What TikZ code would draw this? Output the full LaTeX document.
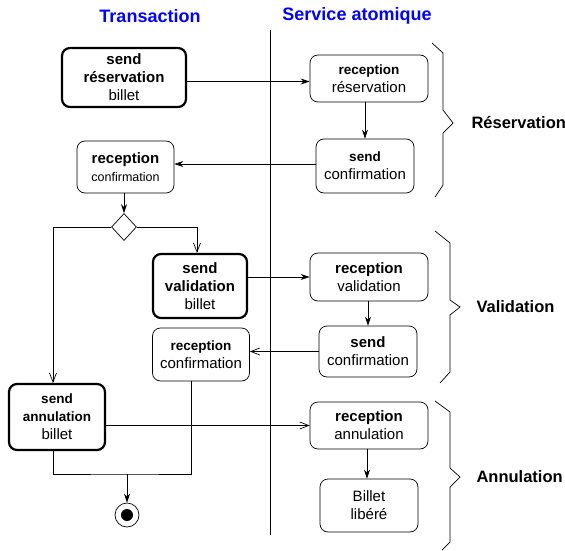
\documentclass[tikz,border=0pt]{standalone}
\usepackage{fontspec}
\setmainfont{Liberation Sans}
\usetikzlibrary{arrows.meta, shapes.geometric}
\definecolor{laneblue}{HTML}{0000FF}
\newcommand{\rt}{\fontsize{15}{18}\selectfont}
\newcommand{\st}[1]{{\fontsize{13.5}{18}\selectfont\bfseries #1}}
\tikzset{
  act/.style={rectangle, rounded corners=8pt, draw, line width=0.7pt,
              align=center, inner sep=1pt, font=\rt},
  sendact/.style={act, line width=2.2pt},
  decide/.style={diamond, draw, line width=0.7pt, minimum width=25pt,
                 minimum height=27pt, inner sep=0pt},
  endstate/.style={circle, draw, line width=0.7pt, minimum size=24pt, inner sep=0pt,
                   path picture={\fill (path picture bounding box.center) circle (6pt);}},
  lanetitle/.style={font=\fontsize{18}{20}\selectfont\bfseries, text=laneblue},
  phase/.style={font=\fontsize{16.5}{19}\selectfont\bfseries, anchor=west},
  arr/.style={line width=0.7pt, -{Stealth[length=9pt, width=6pt]}},
  oarr/.style={line width=0.7pt, -{Straight Barb[length=9pt, width=7pt]}},
  brace/.style={line width=0.7pt},
}
\begin{document}
\begin{tikzpicture}[x=1pt, y=-1pt]
  \useasboundingbox (0,0) rectangle (565,551);
  % LANES
  \node[lanetitle] (transTitle) at (150,16) {Transaction};
  \node[lanetitle] (servTitle) at (357,16) {Service atomique};
  \coordinate (laneTop) at (270,30);
  \coordinate (laneBot) at (270,535);
  \draw[line width=0.7pt] (laneTop) -- (laneBot);

  % RESERVATION
  \node[sendact, minimum width=124pt, minimum height=59pt] (resSend) at (124,77.5)
    {\textbf{send}\\\textbf{réservation}\\billet};
  \node[act, minimum width=118pt, minimum height=47pt] (resRecv) at (369,78.5)
    {\st{reception}\\réservation};
  \node[act, minimum width=98pt, minimum height=54pt] (resConf) at (365,166)
    {\st{send}\\confirmation};
  \node[act, minimum width=97pt, minimum height=52pt] (resRecvConf) at (125.5,167)
    {\textbf{reception}\\{\fontsize{12.5}{16}\selectfont confirmation}};
  \node[decide] (choice) at (124,227) {};

  \draw[arr] ([yshift=-4pt]resSend.east) -- ([yshift=-4pt]resSend.east -| resRecv.west);
  \draw[arr] (resRecv.south -| resConf.north) -- (resConf.north);
  \draw[arr] ([yshift=2pt]resConf.west) -- ([yshift=2pt]resConf.west -| resRecvConf.east);
  \draw[arr] (resRecvConf.south -| choice.north) -- (choice.north);

  % VALIDATION
  \node[sendact, minimum width=94pt, minimum height=64pt] (valSend) at (200,286)
    {\textbf{send}\\\textbf{validation}\\billet};
  \node[act, minimum width=118pt, minimum height=48pt] (valRecv) at (369,277)
    {\textbf{reception}\\validation};
  \node[act, minimum width=98pt, minimum height=51pt] (valConf) at (368,351.5)
    {\textbf{send}\\confirmation};
  \node[act, minimum width=97pt, minimum height=53pt] (valRecvConf) at (201,354.5)
    {\st{reception}\\confirmation};

  \draw[oarr] (choice.east) -| ([xshift=-3pt]valSend.north);
  \draw[arr] (valSend.east |- valRecv.west) -- (valRecv.west);
  \draw[arr] (valRecv.south -| valConf.north) -- (valConf.north);
  \draw[oarr] (valConf.west) -- (valConf.west -| valRecvConf.east);

  % ANNULATION
  \node[sendact, minimum width=96pt, minimum height=66pt] (annSend) at (57,417)
    {\st{send}\\\st{annulation}\\billet};
  \node[act, minimum width=118pt, minimum height=47pt] (annRecv) at (369,425.5)
    {\textbf{reception}\\annulation};
  \node[act, minimum width=98pt, minimum height=53pt] (annFree) at (369,505.5)
    {Billet\\libéré};
  \node[endstate] (finish) at (127,515) {};
  \coordinate (join) at (127,474);

  \draw[oarr] (choice.west) -| ([xshift=-4pt]annSend.north);
  \draw[oarr] (annSend.east |- annRecv.west) -- (annRecv.west);
  \draw[arr] ([xshift=-2pt]annRecv.south) -- ([xshift=-2pt]annFree.north);
  \draw[line width=0.7pt] ([xshift=-4pt]annSend.south) |- (join)
    -| ([xshift=-10pt]valRecvConf.south);
  \draw[arr] (join) -- (finish.north);

  % PHASES
  \draw[brace] (432,43) -- (443,53) -- (443,110) -- (453,123) -- (443,133) -- (443,185) -- (435,197);
  \draw[brace] (435,231) -- (450,243) -- (450,300) -- (460,307) -- (450,315) -- (450,372) -- (440,383);
  \draw[brace] (435,401) -- (450,412) -- (450,468) -- (460,477) -- (450,487) -- (450,542) -- (442,550);
  \node[phase] (resLabel) at (468,123) {Réservation};
  \node[phase] (valLabel) at (473,307) {Validation};
  \node[phase] (annLabel) at (473,477) {Annulation};
\end{tikzpicture}
\end{document}
